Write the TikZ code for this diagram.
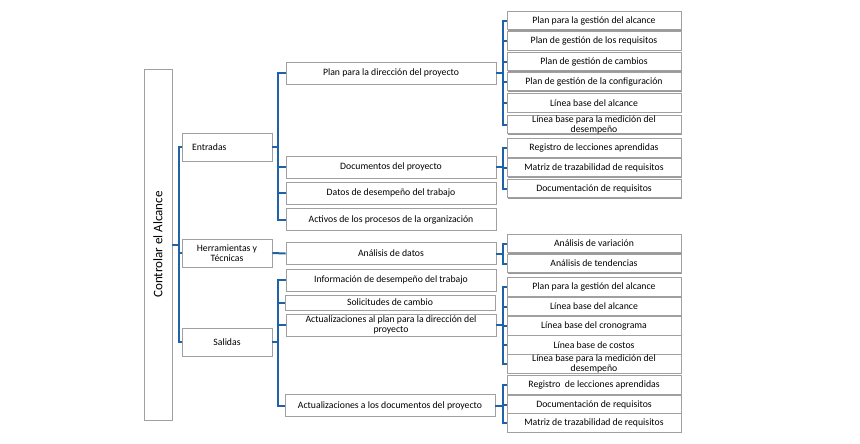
\documentclass[tikz,border=0pt]{standalone}
\usepackage{fontspec}
\setmainfont{Carlito}
\usetikzlibrary{shadows,positioning}
\definecolor{linkblue}{RGB}{31,98,170}
\definecolor{boxgray}{RGB}{160,160,160}

\begin{document}
\begin{tikzpicture}[
    x=0.75pt, y=-0.75pt,
    box/.style={rectangle, draw=boxgray, fill=white, line width=0.6pt, inner sep=0pt, align=center, font=\fontsize{7.3}{7.4}\selectfont, drop shadow={shadow xshift=0.6pt, shadow yshift=-0.6pt, fill=black!40, opacity=1}},
    group/.style={box, minimum width=67.5pt, minimum height=21pt},
    item/.style={box, minimum width=157.5pt, minimum height=16.5pt},
    detail/.style={box, minimum width=130.5pt, minimum height=13.9pt},
    link/.style={draw=linkblue, line width=1.5pt}
]
    \useasboundingbox (0,0) rectangle (860,443);

    % root
    \node[box, minimum width=21pt, minimum height=263.25pt] (root) at (158,244.5) {};
    \node[rotate=90, font=\fontsize{9.8}{10}\selectfont] (roottitle) at (root.center) {Controlar el Alcance};

    % first level
    \node[group, text width=52.5pt, inner xsep=7.5pt, align=left] (entradas) at (227,147) {Entradas};
    \node[group] (herramientas) at (227,253) {Herramientas y\\T\'ecnicas};
    \node[group] (salidas) at (227,342) {Salidas};

    % second level
    \node[item] (plandir) at (391,73) {Plan para la direcci\'on del proyecto};
    \node[item] (docs) at (391,167) {Documentos del proyecto};
    \node[item] (datos) at (391,193) {Datos de desempe\~no del trabajo};
    \node[item] (activos) at (391,219.5) {Activos de los procesos de la organizaci\'on};
    \node[item] (analisis) at (391,253.5) {An\'alisis de datos};
    \node[item] (infodes) at (391,280) {Informaci\'on de desempe\~no del trabajo};
    \node[item, minimum height=11.25pt] (solicitudes) at (390,302.5) {Solicitudes de cambio};
    \node[item] (actplan) at (391,325) {Actualizaciones al plan para la direcci\'on del\\proyecto};
    \node[item] (actdocs) at (390,405.5) {Actualizaciones a los documentos del proyecto};

    % third level
    \node[detail] (pgalcance) at (594,20.5) {Plan para la gesti\'on del alcance};
    \node[detail] (pgreq) at (594,41) {Plan de gesti\'on de los requisitos};
    \node[detail] (pgcambios) at (594,61.5) {Plan de gesti\'on de cambios};
    \node[detail] (pgconfig) at (594,81.5) {Plan de gesti\'on de la configuraci\'on};
    \node[detail] (lbalcance) at (594,103) {L\'inea base del alcance};
    \node[detail] (lbmedicion) at (594,124.5) {L\'inea base para la medici\'on del\\desempe\~no};

    \node[detail] (regleccion) at (594,148) {Registro de lecciones aprendidas};
    \node[detail] (matriz) at (594,167.5) {Matriz de trazabilidad de requisitos};
    \node[detail] (docreq) at (594,188.5) {Documentaci\'on de requisitos};

    \node[detail] (anvar) at (594,243.5) {An\'alisis de variaci\'on};
    \node[detail] (antend) at (594,263.5) {An\'alisis de tendencias};

    \node[detail] (apalcance) at (594,287) {Plan para la gesti\'on del alcance};
    \node[detail] (aplbalcance) at (594,306.5) {L\'inea base del alcance};
    \node[detail] (aplbcrono) at (594,326) {L\'inea base del cronograma};
    \node[detail] (aplbcostos) at (594,345) {L\'inea base de costos};
    \node[detail] (aplbmedicion) at (594,364) {L\'inea base para la medici\'on del\\desempe\~no};

    \node[detail] (adregistro) at (594,385) {Registro\ \ de lecciones aprendidas};
    \node[detail] (addocreq) at (594,405) {Documentaci\'on de requisitos};
    \node[detail] (admatriz) at (594,423) {Matriz de trazabilidad de requisitos};

    % connectors
    \draw[link] (root.east) -- ++(7,0) |- (entradas.west);
    \draw[link] (root.east) -- ++(7,0) |- (herramientas.west);
    \draw[link] (root.east) -- ++(7,0) |- (salidas.west);

    \draw[link] (entradas.east) -- ++(6,0) |- (plandir.west);
    \draw[link] (entradas.east) -- ++(6,0) |- (docs.west);
    \draw[link] (entradas.east) -- ++(6,0) |- (datos.west);
    \draw[link] (entradas.east) -- ++(6,0) |- (activos.west);

    \draw[link] (herramientas.east) -- (analisis.west);

    \draw[link] (salidas.east) -- ++(6,0) |- (infodes.west);
    \draw[link] (salidas.east) -- ++(6,0) |- (solicitudes.west);
    \draw[link] (salidas.east) -- ++(6,0) |- (actplan.west);
    \draw[link] (salidas.east) -- ++(6,0) |- (actdocs.west);

    \draw[link] (plandir.east) -- ++(7,0) |- (pgalcance.west);
    \draw[link] (plandir.east) -- ++(7,0) |- (pgreq.west);
    \draw[link] (plandir.east) -- ++(7,0) |- (pgcambios.west);
    \draw[link] (plandir.east) -- ++(7,0) |- (pgconfig.west);
    \draw[link] (plandir.east) -- ++(7,0) |- (lbalcance.west);
    \draw[link] (plandir.east) -- ++(7,0) |- (lbmedicion.west);

    \draw[link] (docs.east) -- ++(7,0) |- (regleccion.west);
    \draw[link] (docs.east) -- ++(7,0) |- (matriz.west);
    \draw[link] (docs.east) -- ++(7,0) |- (docreq.west);

    \draw[link] (analisis.east) -- ++(7,0) |- (anvar.west);
    \draw[link] (analisis.east) -- ++(7,0) |- (antend.west);

    \draw[link] (actplan.east) -- ++(7,0) |- (apalcance.west);
    \draw[link] (actplan.east) -- ++(7,0) |- (aplbalcance.west);
    \draw[link] (actplan.east) -- ++(7,0) |- (aplbcrono.west);
    \draw[link] (actplan.east) -- ++(7,0) |- (aplbcostos.west);
    \draw[link] (actplan.east) -- ++(7,0) |- (aplbmedicion.west);

    \draw[link] (actdocs.east) -- ++(8,0) |- (adregistro.west);
    \draw[link] (actdocs.east) -- ++(8,0) |- (addocreq.west);
    \draw[link] (actdocs.east) -- ++(8,0) |- (admatriz.west);
\end{tikzpicture}
\end{document}
